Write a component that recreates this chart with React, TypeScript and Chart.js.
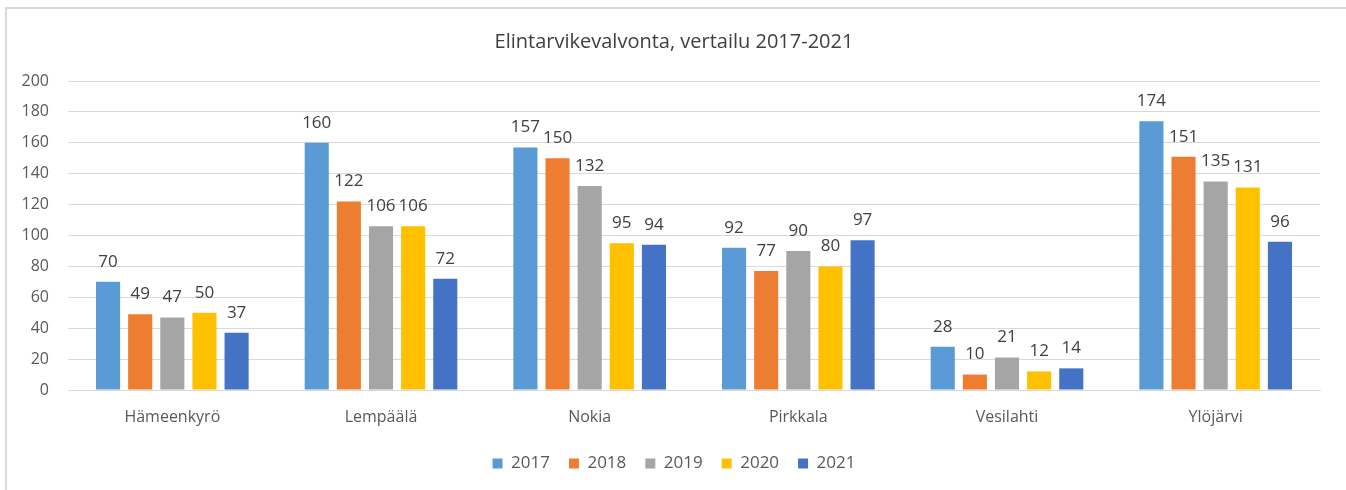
import React, { useEffect, useRef } from "react";
import { Chart, registerables } from "chart.js";

Chart.register(...registerables);

const categories = ["Hämeenkyrö", "Lempäälä", "Nokia", "Pirkkala", "Vesilahti", "Ylöjärvi"];
const years = ["2017", "2018", "2019", "2020", "2021"];
const values2017 = [70, 160, 157, 92, 28, 174];
const values2018 = [49, 122, 150, 77, 10, 151];
const values2019 = [47, 106, 132, 90, 21, 135];
const values2020 = [50, 106, 95, 80, 12, 131];
const values2021 = [37, 72, 94, 97, 14, 96];
const colors = ["#5B9BD5", "#ED7D31", "#A5A5A5", "#FFC000", "#4472C4"];
const titleText = "Elintarvikevalvonta, vertailu 2017-2021";

const FONT = "'Open Sans', 'Noto Sans', sans-serif";

const valueLabels = {
  id: "valueLabels",
  afterDatasetsDraw(chart: any) {
    const ctx = chart.ctx;
    ctx.save();
    ctx.font = `17px ${FONT}`;
    ctx.fillStyle = "#404040";
    ctx.textAlign = "center";
    ctx.textBaseline = "middle";
    chart.data.datasets.forEach((ds: any, i: number) => {
      const meta = chart.getDatasetMeta(i);
      meta.data.forEach((el: any, j: number) => {
        ctx.fillText(String(ds.data[j]), el.x, el.y - 20);
      });
    });
    ctx.restore();
  },
};

export default function App() {
  const ref = useRef<HTMLCanvasElement>(null);
  useEffect(() => {
    if (!ref.current) return;
    const series = [values2017, values2018, values2019, values2020, values2021];
    const chart = new Chart(ref.current, {
      type: "bar",
      data: {
        labels: categories,
        datasets: years.map((y, i) => ({
          label: y,
          data: series[i],
          backgroundColor: colors[i],
          borderWidth: 0,
          categoryPercentage: 0.77,
          barPercentage: 0.75,
        })),
      },
      options: {
        animation: false,
        responsive: false,
        maintainAspectRatio: false,
        layout: { padding: { left: 18, right: 16, top: 0, bottom: 8 } },
        plugins: {
          title: {
            display: true,
            text: titleText,
            color: "#404040",
            font: { family: FONT, size: 20, weight: "normal" },
            padding: { top: 30, bottom: 27 },
          },
          legend: {
            position: "bottom",
            labels: {
              boxWidth: 10,
              boxHeight: 10,
              padding: 19,
              color: "#595959",
              font: { family: FONT, size: 17 },
            },
          },
          tooltip: { enabled: false },
        },
        scales: {
          x: {
            grid: { display: false },
            border: { display: true, color: "#d9d9d9" },
            ticks: { color: "#595959", font: { family: FONT, size: 16 }, padding: 10 },
            afterFit: (s: any) => { s.height = 46; },
          },
          y: {
            position: "left",
            min: 0,
            max: 200,
            ticks: { stepSize: 20, color: "#595959", font: { family: FONT, size: 16 }, padding: 19 },
            grid: { color: "#d9d9d9", drawTicks: false },
            border: { display: false },
            afterFit: (s: any) => { s.width = 50; },
          },
          yRight: {
            type: "linear",
            position: "right",
            display: true,
            ticks: { display: false },
            grid: { display: false, drawTicks: false },
            border: { display: false },
            afterFit: (s: any) => { s.width = 10; },
          },
        },
      },
      plugins: [valueLabels],
    });
    return () => chart.destroy();
  }, []);

  return (
    <div style={{ position: "fixed", left: 0, top: 0, width: 1346, height: 490, overflow: "hidden", background: "#fff" }}>
      <div style={{ position: "absolute", left: 5, top: 7, right: -10, bottom: -10, borderLeft: "2px solid #d9d9d9", borderTop: "2px solid #d9d9d9" }} />
      <canvas ref={ref} width={1346} height={490} style={{ position: "absolute", left: 0, top: 0 }} />
    </div>
  );
}
